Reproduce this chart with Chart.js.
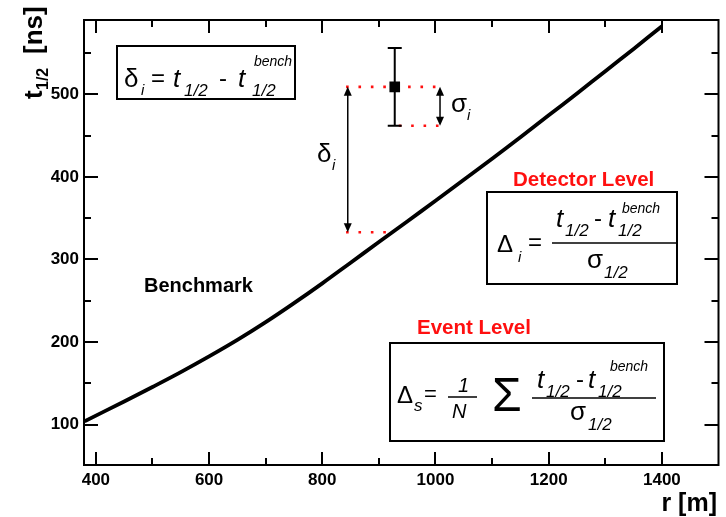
<!DOCTYPE html>
<html>
<head>
<meta charset="utf-8">
<script src="https://cdn.jsdelivr.net/npm/chart.js@4.4.1/dist/chart.umd.min.js"></script>
<style>
  html, body { margin: 0; padding: 0; background: #fff; }
  canvas { display: block; }
</style>
</head>
<body>
<canvas id="plot" width="726" height="517"></canvas>
<script>
// benchmark curve t1/2 vs r
const rVals = [380, 450, 500, 550, 600, 650, 700, 750, 800, 850, 900, 950, 1000, 1050, 1100, 1150, 1200, 1250, 1300, 1350, 1400];
const tVals = [104, 128, 145.5, 163.5, 182.5, 202.5, 224, 247, 271, 296, 321, 346, 371, 396.5, 422, 448, 474.5, 501, 528, 555, 582.5];

// axis ticks
const xTicks = [400, 600, 800, 1000, 1200, 1400];
const xMinor = [500, 700, 900, 1100, 1300, 1500];
const yTicks = [100, 200, 300, 400, 500];
const yMinor = [150, 250, 350, 450, 550];

// single measurement with its error, and the benchmark value under it
const errR = 928, errT = 509, errSigma = 47;
const benchT = 333;
const dotLeftR = 842, dotRightR = 1006, benchDotEndR = 918;
const deltaArrowR = 845, sigmaArrowR = 1008;

const FONT = '"Liberation Sans", Arial, Helvetica, sans-serif';

function put(ctx, s, x, y, size, style, color) {
  ctx.font = (style || '') + ' ' + size + 'px ' + FONT;
  ctx.fillStyle = color || '#000';
  ctx.fillText(s, x, y);
}

function arrowHead(ctx, x, y, dir) {
  ctx.beginPath();
  ctx.moveTo(x, y);
  ctx.lineTo(x - 4, y - dir * 9);
  ctx.lineTo(x + 4, y - dir * 9);
  ctx.closePath();
  ctx.fill();
}

function doubleArrow(ctx, x, y1, y2) {
  ctx.beginPath();
  ctx.moveTo(x, y1 + 3);
  ctx.lineTo(x, y2 - 3);
  ctx.stroke();
  arrowHead(ctx, x, y1, -1);
  arrowHead(ctx, x, y2, 1);
}

const frame = {
  id: 'frame',
  beforeDatasetsDraw(chart) {
    const { ctx, scales: { x, y } } = chart;
    // red dotted guides
    ctx.save();
    ctx.strokeStyle = '#ff1010';
    ctx.lineWidth = 2.6;
    ctx.setLineDash([2.6, 9.8]);
    const yTop = y.getPixelForValue(errT), yLow = y.getPixelForValue(errT - errSigma);
    const yBench = y.getPixelForValue(benchT);
    ctx.beginPath();
    ctx.moveTo(x.getPixelForValue(dotLeftR), yTop);
    ctx.lineTo(x.getPixelForValue(dotRightR), yTop);
    ctx.moveTo(x.getPixelForValue(errR) + 4, yLow);
    ctx.lineTo(x.getPixelForValue(dotRightR), yLow);
    ctx.moveTo(x.getPixelForValue(dotLeftR), yBench);
    ctx.lineTo(x.getPixelForValue(benchDotEndR), yBench);
    ctx.stroke();
    ctx.restore();

    // error bar
    ctx.save();
    ctx.strokeStyle = '#000';
    ctx.lineWidth = 2;
    const ex = x.getPixelForValue(errR);
    const eTop = y.getPixelForValue(errT + errSigma), eBot = y.getPixelForValue(errT - errSigma);
    ctx.beginPath();
    ctx.moveTo(ex, eTop); ctx.lineTo(ex, eBot);
    ctx.moveTo(ex - 7, eTop); ctx.lineTo(ex + 7, eTop);
    ctx.moveTo(ex - 7, eBot); ctx.lineTo(ex + 7, eBot);
    ctx.stroke();
    ctx.restore();
  },
  afterDraw(chart) {
    const { ctx, chartArea: a, scales: { x, y } } = chart;
    ctx.save();
    ctx.strokeStyle = '#000';
    ctx.fillStyle = '#000';

    // frame and inward ticks on all four sides
    ctx.lineWidth = 2;
    ctx.strokeRect(a.left, a.top, a.right - a.left, a.bottom - a.top);
    ctx.beginPath();
    const tickX = (vals, len) => vals.forEach(v => {
      const px = Math.round(x.getPixelForValue(v));
      if (px < a.left || px > a.right) return;
      ctx.moveTo(px, a.bottom); ctx.lineTo(px, a.bottom - len);
      ctx.moveTo(px, a.top); ctx.lineTo(px, a.top + len);
    });
    const tickY = (vals, len) => vals.forEach(v => {
      const py = Math.round(y.getPixelForValue(v));
      if (py < a.top || py > a.bottom) return;
      ctx.moveTo(a.left, py); ctx.lineTo(a.left + len, py);
      ctx.moveTo(a.right, py); ctx.lineTo(a.right - len, py);
    });
    tickX(xTicks, 13); tickX(xMinor, 7);
    tickY(yTicks, 14); tickY(yMinor, 7);
    ctx.stroke();

    // arrows for delta_i and sigma_i
    ctx.lineWidth = 1.5;
    doubleArrow(ctx, x.getPixelForValue(deltaArrowR), y.getPixelForValue(errT), y.getPixelForValue(benchT));
    doubleArrow(ctx, x.getPixelForValue(sigmaArrowR), y.getPixelForValue(errT), y.getPixelForValue(errT - errSigma));

    ctx.textAlign = 'left';
    ctx.textBaseline = 'alphabetic';
    put(ctx, 'δ', 317, 162, 26);
    put(ctx, 'i', 332, 170, 15, 'italic');
    put(ctx, 'σ', 451, 112, 26);
    put(ctx, 'i', 467, 120, 15, 'italic');

    put(ctx, 'Benchmark', 144, 292, 20, 'bold');

    // definition box
    ctx.lineWidth = 2;
    ctx.strokeRect(117, 46, 178, 53);
    put(ctx, 'δ', 124, 87, 26);
    put(ctx, 'i', 141, 95, 15, 'italic');
    put(ctx, '=', 151, 86, 24);
    put(ctx, 't', 173, 87, 26, 'italic');
    put(ctx, '1/2', 184, 96, 17, 'italic');
    put(ctx, '-', 219, 86, 24);
    put(ctx, 't', 238, 87, 26, 'italic');
    put(ctx, 'bench', 254, 66, 14, 'italic');
    put(ctx, '1/2', 252, 96, 17, 'italic');

    // detector level box
    put(ctx, 'Detector Level', 513, 186, 20.5, 'bold', '#ff1010');
    ctx.strokeRect(487, 192, 190, 92);
    put(ctx, 'Δ', 497, 252, 24);
    put(ctx, 'i', 518, 262, 15, 'italic');
    put(ctx, '=', 528, 250, 24);
    ctx.lineWidth = 1.5;
    ctx.beginPath(); ctx.moveTo(552, 243); ctx.lineTo(676, 243); ctx.stroke();
    put(ctx, 't', 556, 227, 26, 'italic');
    put(ctx, '1/2', 565, 236, 17, 'italic');
    put(ctx, '-', 594, 226, 24);
    put(ctx, 't', 608, 227, 26, 'italic');
    put(ctx, 'bench', 622, 213, 14, 'italic');
    put(ctx, '1/2', 618, 236, 17, 'italic');
    put(ctx, 'σ', 587, 268, 26);
    put(ctx, '1/2', 604, 278, 17, 'italic');

    // event level box
    put(ctx, 'Event Level', 417, 334, 20.5, 'bold', '#ff1010');
    ctx.lineWidth = 2;
    ctx.strokeRect(390, 343, 274, 98);
    put(ctx, 'Δ', 397, 403, 24);
    put(ctx, 's', 414, 411, 17, 'italic');
    put(ctx, '=', 424, 401, 22);
    ctx.lineWidth = 1.5;
    ctx.beginPath(); ctx.moveTo(448, 397); ctx.lineTo(477, 397); ctx.stroke();
    put(ctx, '1', 458, 392, 20, 'italic');
    put(ctx, 'N', 452, 418, 20, 'italic');
    put(ctx, 'Σ', 492, 411, 48);
    ctx.beginPath(); ctx.moveTo(532, 398); ctx.lineTo(656, 398); ctx.stroke();
    put(ctx, 't', 537, 388, 26, 'italic');
    put(ctx, '1/2', 546, 397, 17, 'italic');
    put(ctx, '-', 576, 387, 24);
    put(ctx, 't', 588, 388, 26, 'italic');
    put(ctx, 'bench', 610, 371, 14, 'italic');
    put(ctx, '1/2', 598, 397, 17, 'italic');
    put(ctx, 'σ', 570, 420, 26);
    put(ctx, '1/2', 588, 430, 17, 'italic');

    // axis titles
    ctx.textAlign = 'right';
    put(ctx, 'r [m]', 717, 511, 25, 'bold');
    ctx.textAlign = 'left';
    ctx.translate(42, 99);
    ctx.rotate(-Math.PI / 2);
    put(ctx, 't', 0, 0, 26, 'bold');
    put(ctx, '1/2', 9, 6, 16, 'bold');
    put(ctx, '[ns]', 45, 0, 26, 'bold');
    ctx.restore();
  }
};

const tickFont = { family: FONT, size: 17, weight: 'bold' };

new Chart(document.getElementById('plot'), {
  type: 'line',
  data: {
    datasets: [
      {
        data: rVals.map((r, i) => ({ x: r, y: tVals[i] })),
        borderColor: '#000',
        borderWidth: 3.8,
        pointRadius: 0,
        tension: 0.4
      },
      {
        type: 'scatter',
        data: [{ x: errR, y: errT }],
        pointStyle: 'rect',
        pointRadius: 7.5,
        backgroundColor: '#000',
        borderColor: '#000',
        borderWidth: 0
      }
    ]
  },
  options: {
    responsive: false,
    animation: false,
    layout: { padding: { top: 20, right: 6, left: 0, bottom: 0 } },
    plugins: { legend: { display: false }, tooltip: { enabled: false } },
    scales: {
      x: {
        type: 'linear', min: 379, max: 1500,
        afterBuildTicks: s => { s.ticks = xTicks.map(v => ({ value: v })); },
        afterFit: s => { s.height = 52; },
        grid: { display: false, drawTicks: false },
        border: { display: false },
        ticks: { font: tickFont, color: '#000', padding: 5, maxRotation: 0, autoSkip: false, callback: v => String(v) }
      },
      y: {
        type: 'linear', min: 51, max: 590,
        afterBuildTicks: s => { s.ticks = yTicks.map(v => ({ value: v })); },
        afterFit: s => { s.width = 84; },
        grid: { display: false, drawTicks: false },
        border: { display: false },
        ticks: { font: tickFont, color: '#000', padding: 5, autoSkip: false, callback: v => String(v) }
      }
    }
  },
  plugins: [frame]
});
</script>
</body>
</html>
